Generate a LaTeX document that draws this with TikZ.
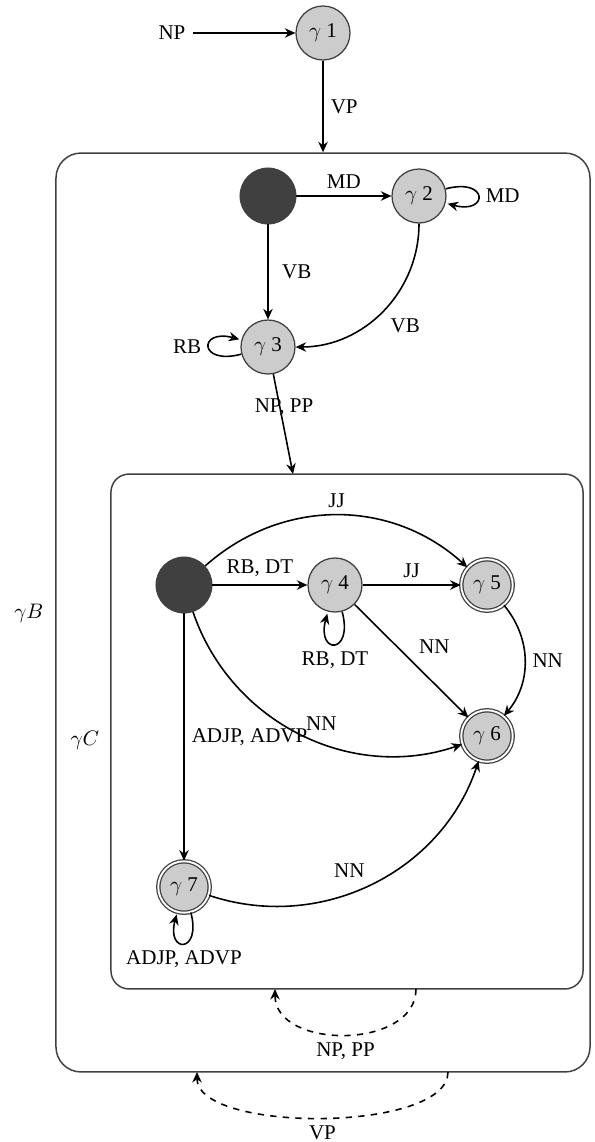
\documentclass[tikz,border=0pt]{standalone}
\usepackage{fontspec}
\setmainfont{Liberation Serif}
\usetikzlibrary{arrows.meta}

\begin{document}
\begin{tikzpicture}[x=0.476pt, y=-0.476pt, >={Stealth[length=5pt, width=4.5pt]}]
    \tikzstyle{gstate}=[circle, draw=black!75, fill=black!20, line width=0.6pt, minimum size=25.7pt, inner sep=0pt]
    \tikzstyle{gfinal}=[gstate, double, double distance=0.9pt, minimum size=24.5pt]
    \tikzstyle{hub}=[circle, draw=black!75, fill=black!75, minimum size=26.7pt, inner sep=0pt]
    \tikzstyle{box}=[draw=black!75, line width=0.7pt, inner sep=0pt]
    \tikzstyle{trans}=[->, line width=0.75pt]
    \useasboundingbox (0,0) rectangle (595,1142);

    % the two nested boxes
    \node[box, rounded corners=11.9pt, minimum width=254.2pt, minimum height=437.4pt] (B) at (323,612.5) {};
    \node[box, rounded corners=8.6pt, minimum width=224.7pt, minimum height=245.1pt] (C) at (347,731.5) {};
    \node (labB) at (29,613) {$\gamma B$};
    \node (labC) at (85,740) {$\gamma C$};

    % states
    \foreach \name/\x/\y in {1/323/33, 2/419/196, 3/268/347, 4/335/585}
    \node[gstate] (g\name) at (\x,\y) {$\gamma$ \name};
    \foreach \name/\x/\y in {5/487/585, 6/487/736, 7/184/887}
    \node[gfinal] (g\name) at (\x,\y) {$\gamma$ \name};
    \node[hub] (hB) at (268,196) {};
    \node[hub] (hC) at (184,585) {};
    \node (np) at (172,33) {NP};

    \coordinate (Cin) at (293,474);
    \coordinate (npA) at (416,989);
    \coordinate (npB) at (275,989);
    \coordinate (vpA) at (448,1072);
    \coordinate (vpB) at (197,1072);

    % top level
    \draw[trans] (np) -- (g1);
    \draw[trans] (g1) -- node[right] {VP} (g1 |- B.north);

    % box B
    \draw[trans] (hB) -- node[above] {MD} (g2);
    \draw[trans] (hB) -- node[right, xshift=3pt] {VB} (g3);
    \draw[trans] (g2) to[out=-90, in=0] node[below right] {VB} (g3);
    \draw[trans] (g2) edge[loop right] node {MD} ();
    \draw[trans] (g3) edge[loop left] node {RB} ();
    \draw[trans] (g3) -- node[pos=0.33, xshift=2pt] {NP, PP} (Cin);

    % box C
    \draw[trans] (hC) -- node[above] {RB, DT} (g4);
    \draw[trans] (hC) to[bend left=42] node[above] {JJ} (g5);
    \draw[trans] (g4) -- node[above] {JJ} (g5);
    \draw[trans] (g4) edge[loop below] node {RB, DT} ();
    \draw[trans] (g4) -- node[above right] {NN} (g6);
    \draw[trans] (g5) to[bend left=40] node[right] {NN} (g6);
    \draw[trans] (hC) to[bend right=45] node[above left, pos=0.55, xshift=14pt, yshift=1pt] {NN} (g6);
    \draw[trans] (hC) -- node[right] {ADJP, ADVP} (g7);
    \draw[trans] (g7) to[bend right=45] node[above left, pos=0.55, xshift=-6.5pt, yshift=-4.5pt] {NN} (g6);
    \draw[trans] (g7) edge[loop below] node {ADJP, ADVP} ();

    % returns
    \draw[trans, dashed] (npA) .. controls (416,1050) and (275,1050) .. node[below] {NP, PP} (npB);
    \draw[trans, dashed] (vpA) .. controls (448,1133) and (197,1133) .. node[below] {VP} (vpB);
\end{tikzpicture}
\end{document}
